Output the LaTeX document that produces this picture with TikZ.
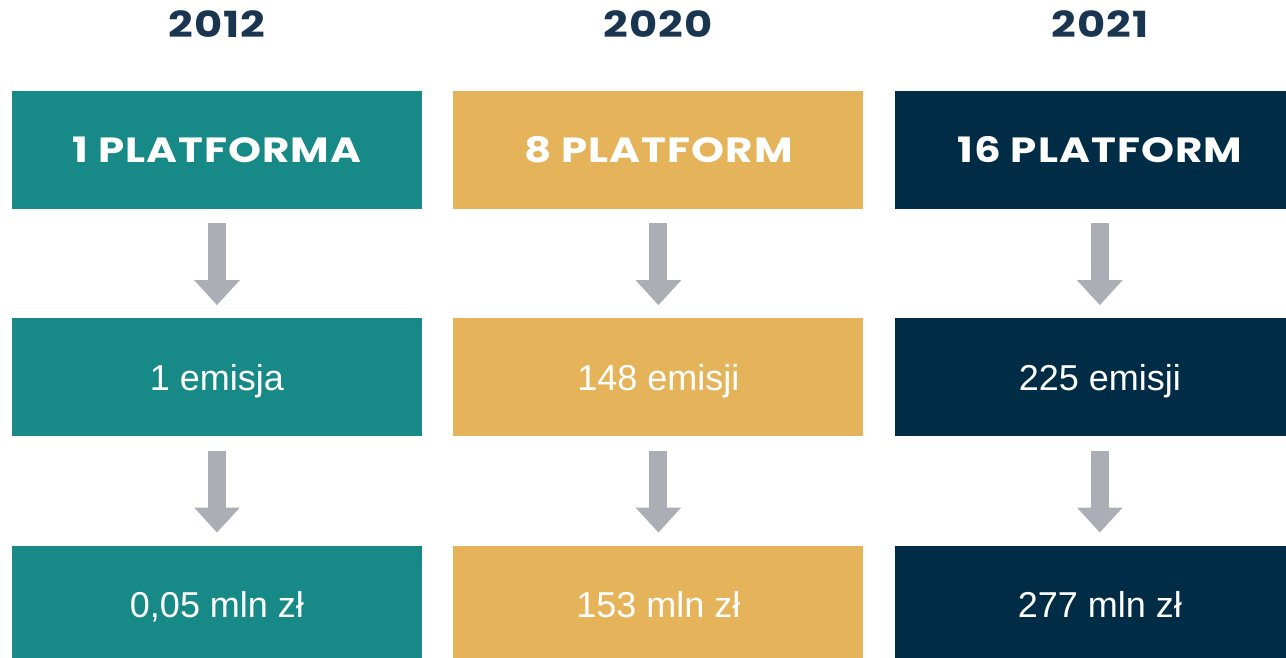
\documentclass[tikz,border=0pt]{standalone}
\usepackage{fontspec}
\setmainfont{Liberation Sans}
\newfontfamily\headfont[FakeStretch=1.2, LetterSpace=3]{Poppins}
\usepackage{tikz}
\usetikzlibrary{arrows.meta, positioning}
\definecolor{tealc}{HTML}{178A87}
\definecolor{goldc}{HTML}{E5B35A}
\definecolor{navyc}{HTML}{002D45}
\definecolor{yearc}{HTML}{1A3550}
\definecolor{arrowc}{HTML}{ABAFB5}
\begin{document}
\begin{tikzpicture}[x=1pt, y=-1pt, node distance=109pt and 31pt]
            % node styles: flat boxes, grey block arrows
            \tikzset{
                box/.style={minimum width=410pt, minimum height=118pt, inner sep=0pt,
                    text=white, text height=26pt, text depth=0pt, font=\fontsize{36}{40}\selectfont},
                headbox/.style={box, font=\headfont\bfseries\fontsize{35}{40}\selectfont},
                year/.style={text=yearc, inner sep=0pt, text height=26pt, text depth=0pt,
                    font=\headfont\bfseries\fontsize{36}{40}\selectfont},
                flow/.style={draw=arrowc, line width=18pt, shorten <=14pt, shorten >=13pt,
                    -{Triangle[width=44pt, length=25pt, fill=arrowc]}}
            }
            \clip (0,0) rectangle (1286,658);
            % top row
            \node[headbox, fill=tealc] (p1) at (217,150) {1 PLATFORMA};
            \node[headbox, fill=goldc, right=of p1] (p2) {8 PLATFORM};
            \node[headbox, fill=navyc, right=of p2] (p3) {16 PLATFORM};
            % middle row
            \node[box, fill=tealc, below=of p1] (e1) {1 emisja};
            \node[box, fill=goldc, below=of p2] (e2) {148 emisji};
            \node[box, fill=navyc, below=of p3] (e3) {225 emisji};
            % bottom row
            \node[box, fill=tealc, below=of e1] (v1) {0,05 mln zł};
            \node[box, fill=goldc, below=of e2] (v2) {153 mln zł};
            \node[box, fill=navyc, below=of e3] (v3) {277 mln zł};
            % years above the columns
            \node[year] (y1) at (p1.center |- 0,25) {2012};
            \node[year] (y2) at (p2.center |- 0,25) {2020};
            \node[year] (y3) at (p3.center |- 0,25) {2021};
            % arrows between rows
            \foreach \i in {1,2,3} {
                \draw[flow] (p\i) -- (e\i);
                \draw[flow] (e\i) -- (v\i);
            }
        \end{tikzpicture}
\end{document}
